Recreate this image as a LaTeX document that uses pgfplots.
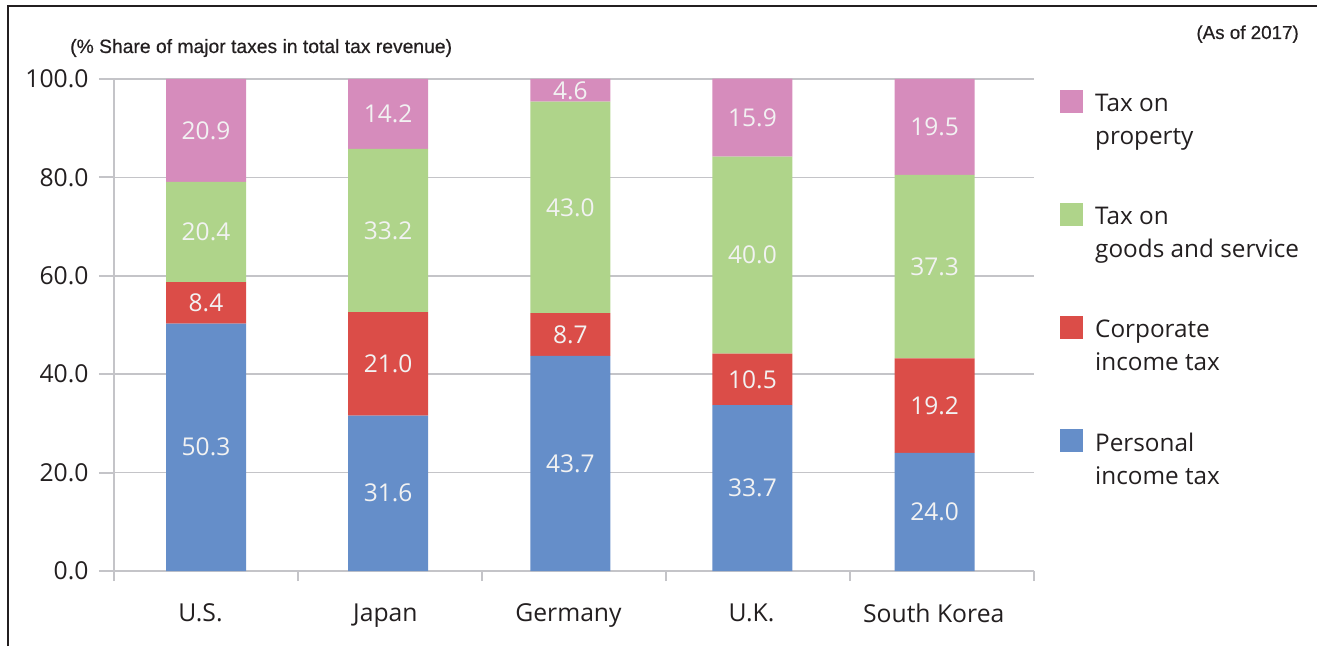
\documentclass[border=0pt]{standalone}
\usepackage{fontspec}
\setmainfont{Open Sans}
\newfontfamily\arialf{Liberation Sans}[FakeBold=0.5]
\usepackage{pgfplots}
\usepackage{pgfplotstable}
\pgfplotsset{compat=1.18}
\definecolor{cblue}{RGB}{101,142,201}
\definecolor{cred}{RGB}{219,77,72}
\definecolor{cgreen}{RGB}{175,212,138}
\definecolor{cpink}{RGB}{214,140,188}
\definecolor{gridc}{RGB}{196,196,200}
\definecolor{textc}{RGB}{35,31,32}
\definecolor{labelc}{RGB}{242,242,242}

\pgfplotstableread{
x pers corp goods prop
0    50.3 8.4 20.4 20.9
0.99 31.6 21.0 33.2 14.2
1.98 43.7 8.7 43.0 4.6
2.97 33.7 10.5 40.0 15.9
3.96 24.0 19.2 37.3 19.5
}\datatable

\pgfplotsset{
  commonaxis/.style={
    at={(114pt,75pt)}, anchor=south west,
    scale only axis, width=920pt, height=492pt,
    xmin=-0.5, xmax=4.5, ymin=0, ymax=100,
    enlargelimits=false,
  }
}

\begin{document}
\begin{tikzpicture}[x=1pt,y=1pt]
\useasboundingbox (0,0) rectangle (1317,646);
\draw[line width=2pt, color=textc] (8,0) -- (8,639.5) -- (1317,639.5);
\node[anchor=base west, font=\arialf\fontsize{19.3}{22}\selectfont, text=textc, inner sep=0pt] at (70,593) {(\% Share of major taxes in total tax revenue)};
\node[anchor=base east, font=\arialf\fontsize{18.8}{22}\selectfont, text=textc, inner sep=0pt] at (1299,607) {(As of 2017)};

\begin{axis}[
  commonaxis,
  ybar stacked, bar width=80pt,
  axis x line*=bottom, axis y line*=left,
  axis line style={draw=gridc, line width=2pt},
  xtick={-0.03,0.975,1.97,2.965,3.955}, xticklabels={U.S.,Japan,Germany,U.K.,South Korea},
  minor xtick={-0.5,0.5,...,4.5},
  ytick={0,20,...,100},
  tick align=outside,
  major tick length=15pt, minor tick length=10pt,
  major x tick style={draw=none},
  minor x tick style={draw=gridc, line width=2pt},
  major y tick style={draw=gridc, line width=2pt},
  ymajorgrids,
  major grid style={draw=gridc, line width=1.6pt},
  tick label style={font=\fontsize{24.7}{28}\selectfont, text=textc},
  xticklabel style={yshift=-14pt},
  yticklabel style={xshift=-7pt},
  /pgf/number format/assume math mode=true,
  yticklabel style={/pgf/number format/.cd, fixed, fixed zerofill, precision=1},
]
\addplot[fill=cblue, draw=none] table[x=x, y=pers] {\datatable};
\addplot[fill=cred, draw=none] table[x=x, y=corp] {\datatable};
\addplot[fill=cgreen, draw=none] table[x=x, y=goods] {\datatable};
\addplot[fill=cpink, draw=none] table[x=x, y=prop] {\datatable};
\end{axis}

\begin{axis}[commonaxis, hide axis]
\addplot[draw=none, mark=none, nodes near coords={\pgfplotspointmeta}, point meta=explicit symbolic,
  nodes near coords style={anchor=center, font=\fontsize{24.5}{28}\selectfont, text=labelc}]
coordinates {
(0,25.15) [50.3] (0,54.5) [8.4] (0,68.9) [20.4] (0,89.55) [20.9]
(0.99,15.8) [31.6] (0.99,42.1) [21.0] (0.99,69.2) [33.2] (0.99,92.9) [14.2]
(1.98,21.85) [43.7] (1.98,48.05) [8.7] (1.98,73.9) [43.0] (1.98,97.5) [4.6]
(2.97,16.85) [33.7] (2.97,38.95) [10.5] (2.97,64.2) [40.0] (2.97,92.15) [15.9]
(3.96,12.0) [24.0] (3.96,33.6) [19.2] (3.96,61.85) [37.3] (3.96,90.25) [19.5]
};
\end{axis}

\begin{scope}[font=\fontsize{24.3}{28}\selectfont, text=textc]
\fill[cpink] (1060,533) rectangle (1083,556);
\node[anchor=base west, inner sep=0pt] at (1095,534) {Tax on};
\node[anchor=base west, inner sep=0pt] at (1095,501) {property};
\fill[cgreen] (1060,420) rectangle (1083,443);
\node[anchor=base west, inner sep=0pt] at (1095,421) {Tax on};
\node[anchor=base west, inner sep=0pt] at (1095,388) {goods and service};
\fill[cred] (1060,307) rectangle (1083,330);
\node[anchor=base west, inner sep=0pt] at (1095,308) {Corporate};
\node[anchor=base west, inner sep=0pt] at (1095,275) {income tax};
\fill[cblue] (1060,194) rectangle (1083,217);
\node[anchor=base west, inner sep=0pt] at (1095,195) {Personal};
\node[anchor=base west, inner sep=0pt] at (1095,162) {income tax};
\end{scope}
\end{tikzpicture}
\end{document}
